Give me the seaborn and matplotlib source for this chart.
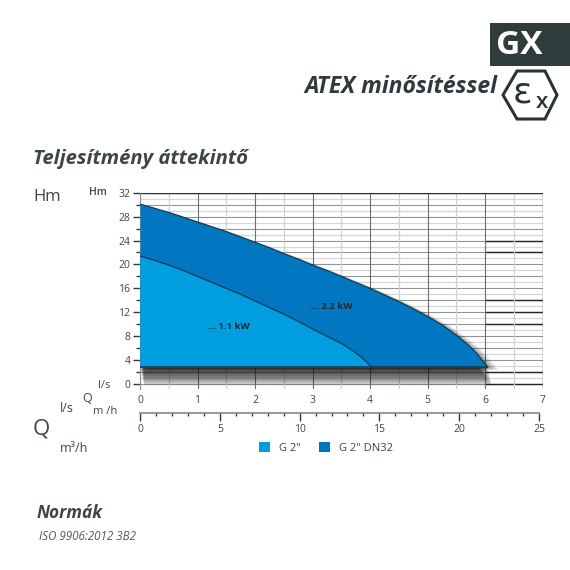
import numpy as np
import matplotlib
matplotlib.use("Agg")
import matplotlib.pyplot as plt
import matplotlib.transforms as mtrans
from matplotlib.patches import Polygon, Rectangle, Patch
import seaborn as sns

# ---- data ----
q_small = [0, 0.25, 0.5, 0.75, 1, 1.25, 1.5, 1.75, 2, 2.25, 2.5, 2.75, 3, 3.25, 3.5, 3.7, 3.85, 3.95, 4.0, 4.03]
h_small = [21.4, 20.7, 19.9, 19.0, 18.0, 17.0, 16.0, 15.0, 13.9, 12.8, 11.7, 10.5, 9.2, 8.0, 6.8, 5.6, 4.5, 3.6, 3.1, 2.8]
q_large = [0, 0.25, 0.5, 0.75, 1, 1.25, 1.5, 1.75, 2, 2.25, 2.5, 2.75, 3, 3.25, 3.5, 3.75, 4, 4.25, 4.5, 4.75, 5, 5.25, 5.5, 5.7, 5.85, 5.95, 6.02, 6.05]
h_large = [30.1, 29.4, 28.7, 27.9, 27.1, 26.3, 25.5, 24.6, 23.7, 22.8, 21.8, 20.9, 19.9, 19.0, 18.0, 17.0, 16.0, 14.9, 13.8, 12.6, 11.3, 9.9, 8.2, 6.6, 5.2, 4.0, 3.2, 2.8]
base_head = 2.8
labels_kw = ["... 1.1 kW", "... 2.2 kW"]
series = ['G 2"', 'G 2" DN32']
colors = ["#009ddf", "#0077c0"]
ls_ticks = [0, 1, 2, 3, 4, 5, 6, 7]
m3h_ticks = [0, 5, 10, 15, 20, 25]
h_ticks = [0, 4, 8, 12, 16, 20, 24, 28, 32]
strong_right = [24, 22, 14, 12, 10, 2, 0]

W = H = 570
TXT = "#3c4646"
sns.set_theme(style="white")
plt.rcParams["font.family"] = ["Open Sans", "DejaVu Sans"]


def fx(x):
    return x / W


def fy(y):
    return 1 - y / H


fig = plt.figure(figsize=(5.7, 5.7), dpi=100, facecolor="white")
ax_l, ax_r, ax_t, ax_b = 140, 542.5, 192.7, 388.5
ax = fig.add_axes([fx(ax_l), fy(ax_b), (ax_r - ax_l) / W, (ax_b - ax_t) / H])
unit = (384 - ax_t) / 32
ax.set_xlim(0, 7)
ax.set_ylim(-(ax_b - 384) / unit, 32)

# grid
for v in np.arange(0, 33, 1):
    major = v % 2 == 0
    ax.hlines(v, 0, 7, color="#8f9494" if major else "#d6d8d8",
              lw=0.8 if major else 0.9, zorder=1)
for v in strong_right:
    ax.hlines(v, 6, 7, color="#202626", lw=1.0, zorder=1.2)
for v in np.arange(0, 7.5, 0.5):
    major = float(v).is_integer()
    ax.vlines(v, ax.get_ylim()[0], 32, color="#6a7070" if major else "#cfd1d1",
              lw=0.8 if major else 0.9, zorder=1.5)
ax.hlines(32, 0, 7, color="#2a3030", lw=1.0, zorder=1.6)
ax.vlines(7, ax.get_ylim()[0], 32, color="#7b8080", lw=1.0, zorder=1.6)

# soft shadow: stacked translucent copies of the large outline
for i in range(30):
    off = mtrans.ScaledTranslation((i + 1) * 0.12 / 100, -(i + 1) * 0.6 / 100, fig.dpi_scale_trans)
    ax.fill_between(q_large, base_head, h_large, color="#1c1c1c", alpha=0.05, lw=0,
                    transform=ax.transData + off, zorder=2)
for i in range(24):
    off = mtrans.ScaledTranslation((i + 1) * 0.45 / 100, -(i + 1) * 0.1 / 100, fig.dpi_scale_trans)
    ax.fill_between(q_large, base_head, h_large, color="#1c1c1c", alpha=0.018, lw=0,
                    transform=ax.transData + off, zorder=2)

# fills
ax.fill_between(q_large, base_head, h_large, color=colors[1], lw=0, zorder=3)
ax.fill_between(q_small, base_head, h_small, color=colors[0], lw=0, zorder=4)

# outlines through seaborn
sns.lineplot(x=q_large, y=h_large, ax=ax, color="#123a55", lw=0.9, sort=False,
             estimator=None, zorder=5)
sns.lineplot(x=q_small, y=h_small, ax=ax, color="#123a55", lw=0.9, sort=False,
             estimator=None, zorder=5)
ax.hlines(base_head, 0, q_large[-1], color="#123a55", lw=1.2, zorder=5)

ax.text(1.55, 9.6, labels_kw[0], fontsize=6.8, fontweight="bold", color="#1b2b33",
        ha="center", va="center", zorder=6)
ax.text(3.33, 13.0, labels_kw[1], fontsize=6.8, fontweight="bold", color="#1b2b33",
        ha="center", va="center", zorder=6)

# axes styling
for s in ax.spines.values():
    s.set_visible(False)
ax.set_xlabel("")
ax.set_ylabel("")
ax.set_xticks(ls_ticks)
ax.set_xticklabels([str(v) for v in ls_ticks])
ax.set_yticks(h_ticks)
ax.set_yticks(np.arange(2, 32, 4), minor=True)
ax.tick_params(axis="y", which="major", length=5, width=1, color="#333a3a",
               labelsize=7.5, labelcolor=TXT, pad=2, left=True)
ax.tick_params(axis="y", which="minor", length=3, width=1, color="#333a3a", left=True)
ax.tick_params(axis="x", which="major", length=0, labelsize=7.5, labelcolor=TXT, pad=5)
ax.spines["left"].set_visible(True)
ax.spines["left"].set_color("#8a8e8e")
ax.spines["left"].set_linewidth(0.8)
ax.patch.set_alpha(0)

# second flow axis
ax2 = fig.add_axes([fx(140), fy(412.7), (539 - 140) / W, 0.0001])
ax2.set_xlim(0, 25)
ax2.set_yticks([])
ax2.patch.set_alpha(0)
for k in ("left", "right", "top"):
    ax2.spines[k].set_visible(False)
ax2.spines["bottom"].set_color("#777c7c")
ax2.spines["bottom"].set_linewidth(1.1)
ax2.set_xticks(m3h_ticks)
ax2.set_xticklabels([str(v) for v in m3h_ticks])
ax2.set_xticks(np.arange(0, 26, 1), minor=True)
ax2.tick_params(axis="x", which="major", length=6, width=1, color="#333a3a",
                labelsize=7.5, labelcolor=TXT, pad=2, bottom=True)
ax2.tick_params(axis="x", which="minor", length=2.5, width=1, color="#333a3a", bottom=True)


# free text
def t(x, y, s, size, **kw):
    kw.setdefault("color", TXT)
    kw.setdefault("ha", "left")
    kw.setdefault("va", "center")
    fig.text(fx(x), fy(y), s, fontsize=size, **kw)


t(33, 197, "Hm", 12)
t(88.5, 193, "Hm", 7.5, fontweight="semibold")
t(98, 385, "l/s", 8)
t(82, 398, "Q", 9)
t(93, 412, "m /h", 8)
t(60, 409, "l/s", 9)
t(33, 429, "Q", 16)
t(60, 448, "m³/h", 9)

t(33, 159, "Teljesítmény áttekintő", 14.6, fontweight="bold", style="italic")
t(304, 87, "ATEX minősítéssel", 16.5, fontweight="bold", style="italic", color="#30393b")
t(37, 513, "Normák", 12.4, fontweight="bold", style="italic")
t(39, 536, "ISO 9906:2012 3B2", 8.4, style="italic", color="#55595a")

# GX badge and Ex hexagon
fig.add_artist(Rectangle((fx(490), fy(66)), 80 / W, 43 / H, transform=fig.transFigure,
                         facecolor="#2f3c3c", edgecolor="none"))
t(496, 45.5, "GX", 24, color="white", fontweight="bold")
hex_pts = [(517, 71), (545, 71), (557, 95), (545, 119), (517, 119), (503, 95)]
fig.add_artist(Polygon([(fx(a), fy(b)) for a, b in hex_pts], closed=True,
                       transform=fig.transFigure, facecolor="white",
                       edgecolor="#2a3333", lw=2.2))
t(513, 92, "ε", 26, color="#2a3333", family=["DejaVu Sans"])
t(536, 102, "x", 16, color="#2a3333", fontweight="semibold")

# legend
handles = [Patch(facecolor=colors[0], edgecolor="none"), Patch(facecolor=colors[1], edgecolor="none")]
leg = fig.legend(handles, series, loc="center left",
                 bbox_to_anchor=(fx(259), fy(448)), ncol=2, frameon=False,
                 fontsize=8, labelcolor=TXT, handlelength=1.0, handleheight=1.0,
                 handletextpad=0.8, columnspacing=1.6, borderpad=0, borderaxespad=0)

fig.savefig("out.png", dpi=100, facecolor="white")
